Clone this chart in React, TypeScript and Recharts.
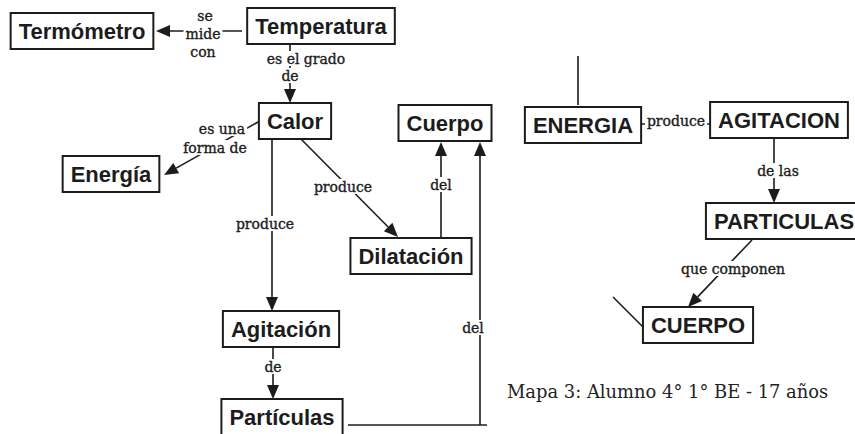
import React from 'react';
import { ScatterChart, Scatter, XAxis, YAxis, ReferenceLine } from 'recharts';

// concept boxes (centre of each box, in picture units)
const concepts = [
  { name: 'Termómetro', x: 82, y: 31 },
  { name: 'Temperatura', x: 321, y: 26 },
  { name: 'Calor', x: 295, y: 121 },
  { name: 'Energía', x: 111, y: 174 },
  { name: 'Cuerpo', x: 445, y: 123 },
  { name: 'Dilatación', x: 411, y: 256 },
  { name: 'Agitación', x: 281, y: 329 },
  { name: 'Partículas', x: 282, y: 417 },
  { name: 'ENERGIA', x: 583, y: 125 },
  { name: 'AGITACION', x: 779, y: 120 },
  { name: 'PARTICULAS', x: 784, y: 221 },
  { name: 'CUERPO', x: 698, y: 325 },
];

// connecting lines: start, end, arrow at the end or not
const links = [
  { x1: 242, y1: 31, x2: 156, y2: 31, arrow: true },
  { x1: 290, y1: 45, x2: 290, y2: 103, arrow: true },
  { x1: 258, y1: 122, x2: 164, y2: 175, arrow: true },
  { x1: 300, y1: 138, x2: 398, y2: 237, arrow: true },
  { x1: 272, y1: 138, x2: 272, y2: 311, arrow: true },
  { x1: 273, y1: 346, x2: 273, y2: 399, arrow: true },
  { x1: 441, y1: 237, x2: 441, y2: 142, arrow: true },
  { x1: 348, y1: 425, x2: 487, y2: 425, arrow: false },
  { x1: 480, y1: 425, x2: 480, y2: 142, arrow: true },
  { x1: 578, y1: 56, x2: 578, y2: 105, arrow: false },
  { x1: 641, y1: 124, x2: 712, y2: 124, arrow: false },
  { x1: 774, y1: 137, x2: 774, y2: 203, arrow: true },
  { x1: 752, y1: 240, x2: 688, y2: 307, arrow: true },
  { x1: 613, y1: 297, x2: 643, y2: 327, arrow: false },
];

// link words, one entry per text line
const linkWords = [
  { text: 'se', x: 205, y: 16 },
  { text: 'mide', x: 203, y: 34 },
  { text: 'con', x: 203, y: 52 },
  { text: 'es el grado', x: 306, y: 59 },
  { text: 'de', x: 290, y: 76 },
  { text: 'es una', x: 222, y: 129 },
  { text: 'forma de', x: 215, y: 148 },
  { text: 'produce', x: 343, y: 187 },
  { text: 'produce', x: 265, y: 224 },
  { text: 'de', x: 273, y: 367 },
  { text: 'del', x: 441, y: 185 },
  { text: 'del', x: 473, y: 328 },
  { text: 'produce', x: 676, y: 121 },
  { text: 'de las', x: 778, y: 171 },
  { text: 'que componen', x: 733, y: 269 },
];

const captions = [{ text: 'Mapa 3: Alumno 4° 1° BE - 17 años', x: 507, y: 392 }];

const BOX_FONT = "bold 22px 'Liberation Sans'";
const WORD_FONT = "14px 'DejaVu Serif'";
const INK = '#1c1c1c';

let measureCtx: CanvasRenderingContext2D | null = null;
function textWidth(text: string, font: string) {
  if (!measureCtx && typeof document !== 'undefined') {
    measureCtx = document.createElement('canvas').getContext('2d');
  }
  if (!measureCtx) return text.length * 11;
  measureCtx.font = font;
  return measureCtx.measureText(text).width;
}

const ConceptBox = (props: any) => {
  const { cx, cy, payload } = props;
  const w = textWidth(payload.name, BOX_FONT) + 16;
  const h = 36;
  return (
    <g>
      <rect x={cx - w / 2} y={cy - h / 2} width={w} height={h} fill="#fff" stroke={INK} strokeWidth={2} />
      <text x={cx} y={cy + 8} textAnchor="middle" fontFamily="Liberation Sans" fontWeight="bold" fontSize={22} fill={INK}>
        {payload.name}
      </text>
    </g>
  );
};

const LinkWord = (props: any) => {
  const { cx, cy, payload } = props;
  const w = textWidth(payload.text, WORD_FONT);
  return (
    <g>
      <rect x={cx - w / 2 - 2} y={cy - 8} width={w + 4} height={15} fill="#fff" />
      <text
        x={cx}
        y={cy + 4.5}
        textAnchor="middle"
        fontFamily="DejaVu Serif"
        fontSize={14}
        fill={INK}
        stroke={INK}
        strokeWidth={0.35}
      >
        {payload.text}
      </text>
    </g>
  );
};

const Caption = (props: any) => {
  const { cx, cy, payload } = props;
  return (
    <text x={cx} y={cy + 6} fontFamily="DejaVu Serif" fontSize={17.9} fill="#222">
      {payload.text}
    </text>
  );
};

const linkShape = (arrow: boolean) => (props: any) => {
  const { x1, y1, x2, y2 } = props;
  const len = Math.hypot(x2 - x1, y2 - y1) || 1;
  const dx = (x2 - x1) / len;
  const dy = (y2 - y1) / len;
  const head = arrow ? 14 : 0;
  const bx = x2 - dx * head;
  const by = y2 - dy * head;
  return (
    <g>
      <line x1={x1} y1={y1} x2={bx} y2={by} stroke={INK} strokeWidth={1.6} />
      {arrow && (
        <polygon
          points={`${x2},${y2} ${bx - dy * 6},${by + dx * 6} ${bx + dy * 6},${by - dx * 6}`}
          fill={INK}
        />
      )}
    </g>
  );
};

export default function App() {
  return (
    <div style={{ position: 'absolute', left: 0, top: 0, background: '#fff' }}>
      <ScatterChart width={855} height={434} margin={{ top: 0, right: 0, bottom: 0, left: 0 }}>
        <XAxis type="number" dataKey="x" domain={[0, 855]} hide />
        <YAxis type="number" dataKey="y" domain={[0, 434]} reversed hide />
        {links.map((l, i) => (
          <ReferenceLine
            key={i}
            segment={[{ x: l.x1, y: l.y1 }, { x: l.x2, y: l.y2 }]}
            ifOverflow="visible"
            shape={linkShape(l.arrow)}
          />
        ))}
        <Scatter data={linkWords} shape={LinkWord} isAnimationActive={false} />
        <Scatter data={concepts} shape={ConceptBox} isAnimationActive={false} />
        <Scatter data={captions} shape={Caption} isAnimationActive={false} />
      </ScatterChart>
    </div>
  );
}
